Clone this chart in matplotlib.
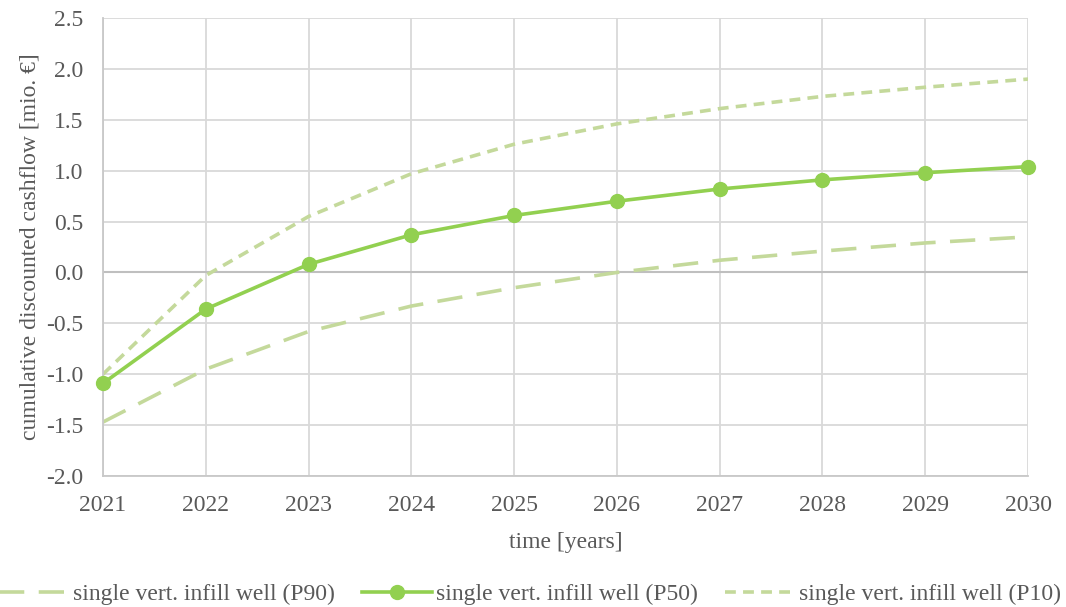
import matplotlib
matplotlib.use("Agg")
import matplotlib.pyplot as plt

years = [2021, 2022, 2023, 2024, 2025, 2026, 2027, 2028, 2029, 2030]
p90 = [-1.47, -0.95, -0.58, -0.33, -0.15, 0.00, 0.12, 0.21, 0.29, 0.35]
p50 = [-1.09, -0.36, 0.08, 0.37, 0.56, 0.70, 0.82, 0.91, 0.98, 1.04]
p10 = [-1.00, -0.03, 0.55, 0.97, 1.26, 1.46, 1.61, 1.73, 1.82, 1.90]
labels = ["single vert. infill well (P90)", "single vert. infill well (P50)",
          "single vert. infill well (P10)"]

plt.rcParams["font.family"] = ["Liberation Serif", "DejaVu Serif"]
text_color = "#595959"
fs = 17

fig = plt.figure(figsize=(10.66, 6.07), dpi=100)
ax = fig.add_axes([0.0966, 0.2158, 0.8678, 0.7545])

light = "#C4D99B"
dark = "#92D050"
ax.plot(years, p90, color=light, lw=2.6, dashes=(7, 4), label=labels[0])
ax.plot(years, p50, color=dark, lw=2.6, marker="o", ms=10, label=labels[1],
        clip_on=False, zorder=3)
ax.plot(years, p10, color=light, lw=2.6, dashes=(3, 2), label=labels[2])

ax.set_xlim(2021, 2030)
ax.set_ylim(-2.0, 2.5)
ax.set_xticks(years)
ax.set_yticks([-2.0, -1.5, -1.0, -0.5, 0.0, 0.5, 1.0, 1.5, 2.0, 2.5])
ax.yaxis.set_major_formatter(matplotlib.ticker.FormatStrFormatter("%.1f"))
ax.grid(True, color="#D9D9D9", lw=1.3)
ax.set_axisbelow(True)
ax.axhline(0, color="#BFBFBF", lw=1.5, zorder=1)
for side in ["top", "right"]:
    ax.spines[side].set_visible(False)
for side in ["left", "bottom"]:
    ax.spines[side].set_color("#C8C8C8")
    ax.spines[side].set_linewidth(1.3)
ax.tick_params(length=0, labelsize=fs, labelcolor=text_color)
ax.tick_params(axis="x", pad=14)
ax.tick_params(axis="y", pad=14)
ax.set_xlabel("time [years]", fontsize=fs, color=text_color, labelpad=11)
ax.set_ylabel("cumulative discounted cashflow [mio. €]", fontsize=fs,
              color=text_color, labelpad=4)

leg = fig.legend(loc="lower center", bbox_to_anchor=(0.497, -0.032), ncol=3,
                 frameon=False, fontsize=fs, handlelength=3.0, columnspacing=1.15,
                 handletextpad=0.15)
for t in leg.get_texts():
    t.set_color(text_color)

fig.savefig("out.png", dpi=100)
